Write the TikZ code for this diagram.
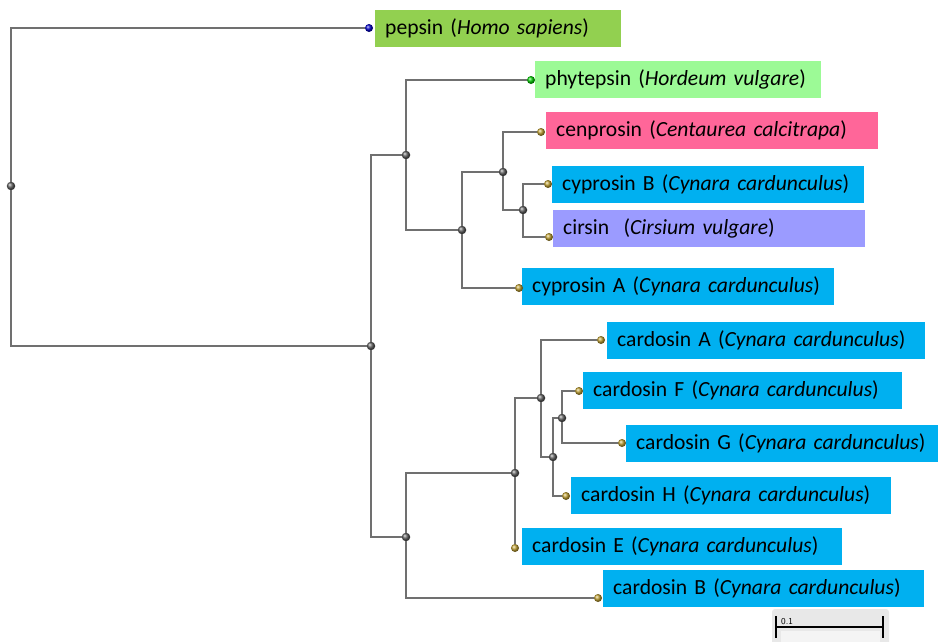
\documentclass[tikz,border=0pt]{standalone}
\usepackage{fontspec}
\setmainfont{Carlito}
\usetikzlibrary{positioning}
\definecolor{pepsinc}{HTML}{92D050}
\definecolor{phyc}{HTML}{9CFA96}
\definecolor{cenc}{HTML}{FF6699}
\definecolor{bluec}{HTML}{00B0F0}
\definecolor{circ}{HTML}{9B9BFF}
\definecolor{linec}{HTML}{707070}
\definecolor{goldc}{HTML}{C0A030}
\tikzset{
  x=1pt, y=-1pt,
  branch/.style={draw=linec, line width=1.4pt},
  inode/.style={circle, inner sep=0pt, minimum size=8.5pt, shading=ball, ball color=gray!75!black},
  lnode/.style={circle, inner sep=0pt, minimum size=8pt, shading=ball, ball color=#1},
  lnode/.default=goldc,
  leafbox/.style n args={2}{fill=#1, anchor=north west, inner xsep=10pt, inner ysep=0pt,
     minimum height=37pt, text width=#2-20pt, align=left,
     font=\fontsize{21.6}{24}\selectfont},
}
\begin{document}
\begin{tikzpicture}
\useasboundingbox (0,0) rectangle (938,641);
% label boxes
\node[leafbox={pepsinc}{246pt}] (bpep) at (375,10) {pepsin (\textit{Homo sapiens})};
\node[leafbox={phyc}{286pt}] (bphy) at (535,61) {phytepsin (\textit{Hordeum vulgare})};
\node[leafbox={cenc}{332pt}] (bcen) at (546,112) {cenprosin (\textit{Centaurea calcitrapa})};
\node[leafbox={bluec}{312pt}] (bcypB) at (552,166) {cyprosin B (\textit{Cynara cardunculus})};
\node[leafbox={circ}{312pt}] (bcir) at (553,210) {cirsin\ \ (\textit{Cirsium vulgare})};
\node[leafbox={bluec}{312pt}] (bcypA) at (522,268) {cyprosin A (\textit{Cynara cardunculus})};
\node[leafbox={bluec}{318pt}] (bcarA) at (607,322) {cardosin A (\textit{Cynara cardunculus})};
\node[leafbox={bluec}{319pt}] (bcarF) at (583,372) {cardosin F (\textit{Cynara cardunculus})};
\node[leafbox={bluec}{312pt}] (bcarG) at (626,425) {cardosin G (\textit{Cynara cardunculus})};
\node[leafbox={bluec}{320pt}] (bcarH) at (571,477) {cardosin H (\textit{Cynara cardunculus})};
\node[leafbox={bluec}{320pt}] (bcarE) at (522,528) {cardosin E (\textit{Cynara cardunculus})};
\node[leafbox={bluec}{321pt}] (bcarB) at (603,570) {cardosin B (\textit{Cynara cardunculus})};
% internal nodes
\node[inode] (r)   at (11,186) {};
\node[inode] (n1)  at (371,346) {};
\node[inode] (n2)  at (406,155) {};
\node[inode] (n3)  at (462,230) {};
\node[inode] (n4)  at (503,172) {};
\node[inode] (n5)  at (523,210) {};
\node[inode] (n6)  at (406,537) {};
\node[inode] (n7)  at (515,473) {};
\node[inode] (n8)  at (541,398) {};
\node[inode] (n9)  at (553,457) {};
\node[inode] (n10) at (562,418) {};
% leaves
\node[lnode={blue!80!black}] (lpep) at (369,28) {};
\node[lnode={green!80!black}] (lphy) at (531,80) {};
\node[lnode] (lcen)  at (541,132) {};
\node[lnode] (lcypB) at (548,184) {};
\node[lnode] (lcir)  at (549,237) {};
\node[lnode] (lcypA) at (519,288) {};
\node[lnode] (lcarA) at (601,340) {};
\node[lnode] (lcarF) at (579,391) {};
\node[lnode] (lcarG) at (622,443) {};
\node[lnode] (lcarH) at (566,496) {};
\node[lnode] (lcarE) at (515,548) {};
\node[lnode] (lcarB) at (598,598) {};
% branches
\draw[branch] (r) |- (lpep);
\draw[branch] (r) |- (n1);
\draw[branch] (n1) |- (n2);
\draw[branch] (n1) |- (n6);
\draw[branch] (n2) |- (lphy);
\draw[branch] (n2) |- (n3);
\draw[branch] (n3) |- (n4);
\draw[branch] (n3) |- (lcypA);
\draw[branch] (n4) |- (lcen);
\draw[branch] (n4) |- (n5);
\draw[branch] (n5) |- (lcypB);
\draw[branch] (n5) |- (lcir);
\draw[branch] (n6) |- (n7);
\draw[branch] (n6) |- (lcarB);
\draw[branch] (n7) |- (n8);
\draw[branch] (n7) -- (lcarE);
\draw[branch] (n8) |- (lcarA);
\draw[branch] (n8) |- (n9);
\draw[branch] (n9) |- (n10);
\draw[branch] (n9) |- (lcarH);
\draw[branch] (n10) |- (lcarF);
\draw[branch] (n10) |- (lcarG);
% scale bar
\fill[gray!18, rounded corners=3pt] (772,609) rectangle (889,650);
\fill[gray!9] (781,631) rectangle (880,650);
\coordinate (sbl) at (776,627);
\coordinate (sbr) at (883,627);
\draw[line width=1.6pt] (776,616) -- (776,638);
\draw[line width=1.6pt] (883,616) -- (883,638);
\draw[line width=1.4pt] (sbl) -- (sbr);
\node[anchor=south west, inner sep=0pt, font=\sffamily\fontsize{9}{9}\selectfont] (sbt) at (781,624.5) {0.1};
\end{tikzpicture}
\end{document}
